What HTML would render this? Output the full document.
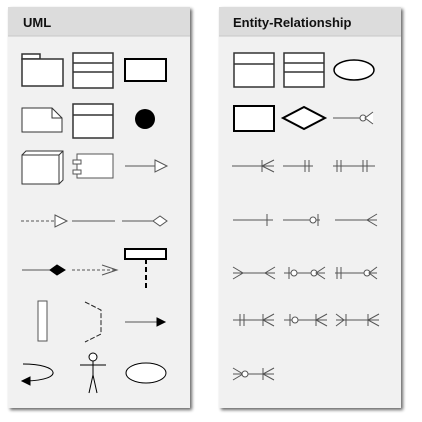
<!DOCTYPE html>
<html><head><style>
html,body{margin:0;padding:0;background:#fff;width:422px;height:422px;overflow:hidden}
text{font-family:"Liberation Sans",sans-serif;font-weight:bold;font-size:13px;fill:#111}
</style></head><body>
<svg width="422" height="422" viewBox="0 0 422 422" xmlns="http://www.w3.org/2000/svg">
<defs>
<filter id="sh" x="-10%" y="-10%" width="130%" height="130%"><feGaussianBlur in="SourceAlpha" stdDeviation="1.5"/><feOffset dx="2" dy="2"/><feComponentTransfer><feFuncA type="linear" slope="0.6"/></feComponentTransfer><feMerge><feMergeNode/><feMergeNode in="SourceGraphic"/></feMerge></filter>
</defs>
<!-- panels -->
<g filter="url(#sh)">
<rect x="8" y="7" width="182" height="401" fill="#f1f1f1"/>
<rect x="219" y="7" width="182" height="401" fill="#f1f1f1"/>
</g>
<rect x="8" y="7" width="182" height="29" fill="#dcdcdc"/>
<rect x="219" y="7" width="182" height="29" fill="#dcdcdc"/>
<line x1="8" y1="36" x2="190" y2="36" stroke="#c8c8c8"/>
<line x1="219" y1="36" x2="401" y2="36" stroke="#c8c8c8"/>
<text x="23" y="27">UML</text>
<text x="233" y="27">Entity-Relationship</text>

<g fill="#fff" stroke="#333" stroke-width="1.5">
<!-- UML row1 -->
<rect x="22" y="54" width="18" height="5"/>
<rect x="22" y="59" width="41" height="27"/>
<rect x="73" y="53" width="40" height="35"/>
<line x1="73" y1="63" x2="113" y2="63"/><line x1="73" y1="72" x2="113" y2="72"/>
<rect x="125" y="59" width="41" height="22" stroke="#000" stroke-width="2"/>
<!-- row2 -->
<path d="M22 108 H52 L62 118 V132 H22 Z" stroke-width="1"/>
<path d="M52 108 V118 H62" fill="none" stroke-width="1"/>
<rect x="73" y="104" width="40" height="34"/>
<line x1="73" y1="115" x2="113" y2="115"/>
<circle cx="145" cy="119" r="10" fill="#000" stroke="none"/>
<!-- row3 -->
<path d="M22 155 L26 151 H63 V180 L59 184" stroke-width="1"/>
<rect x="22" y="155" width="37" height="29" stroke-width="1"/>
<line x1="59" y1="155" x2="63" y2="151" stroke-width="1"/>
<rect x="77" y="154" width="36" height="24" stroke="#555" stroke-width="1"/>
<rect x="73" y="160" width="8" height="4" stroke="#555" stroke-width="1"/>
<rect x="73" y="170" width="8" height="4" stroke="#555" stroke-width="1"/>
</g>
<g stroke="#555" stroke-width="1" fill="#fff">
<line x1="125" y1="166" x2="155" y2="166"/>
<path d="M155 160 L167 166 L155 172 Z"/>
<!-- row4 -->
<line x1="21" y1="221" x2="55" y2="221" stroke-dasharray="3,2"/>
<path d="M55 215 L67 221 L55 227 Z"/>
<line x1="72" y1="221" x2="115" y2="221"/>
<line x1="122" y1="221" x2="153" y2="221"/>
<path d="M153 221 L160 216 L167 221 L160 226 Z"/>
<!-- row5 -->
<line x1="22" y1="270" x2="50" y2="270"/>
<path d="M50 270 L57 265 L65 270 L57 275 Z" fill="#000" stroke="#000"/>
<line x1="72" y1="270" x2="117" y2="270" stroke-dasharray="3,2"/>
<path d="M102 265 L117 270 L102 275" fill="none"/>
<rect x="125" y="249" width="41" height="10" stroke="#000" stroke-width="2"/>
<line x1="146" y1="259" x2="146" y2="291" stroke="#000" stroke-width="2" stroke-dasharray="5,3"/>
<!-- row6 -->
<rect x="38" y="301" width="9" height="40"/>
<path d="M85 302 L101 310 V334 L85 342" fill="none" stroke="#222" stroke-dasharray="5,2"/>
<line x1="125" y1="322" x2="158" y2="322"/>
<path d="M157 318 L165 322 L157 326 Z" fill="#000" stroke="#000"/>
<!-- row7 -->
<path d="M23 364 C60 364 65 380 26 381" fill="none" stroke="#000"/>
<path d="M22 381 L30 377 L30 385 Z" fill="#000" stroke="#000"/>
<circle cx="93" cy="357" r="4" stroke="#000"/>
<line x1="93" y1="361" x2="93" y2="375" stroke="#000"/>
<line x1="80" y1="365" x2="106" y2="365" stroke="#000"/>
<path d="M89 393 L93 375 L97 393" fill="none" stroke="#000"/>
<ellipse cx="146" cy="373" rx="20" ry="10" stroke="#000"/>
</g>

<!-- ER -->
<g fill="#fff" stroke="#333" stroke-width="1.5">
<rect x="234" y="53" width="40" height="34"/>
<line x1="234" y1="64" x2="274" y2="64"/>
<rect x="284" y="53" width="40" height="34"/>
<line x1="284" y1="63" x2="324" y2="63"/><line x1="284" y1="72" x2="324" y2="72"/>
<ellipse cx="354" cy="70" rx="20" ry="10" stroke="#000"/>
<rect x="234" y="106" width="40" height="25" stroke="#000" stroke-width="2"/>
<path d="M283 118 L304 107 L325 118 L304 129 Z" stroke="#000" stroke-width="2"/>
</g>
<g stroke="#555" stroke-width="1" fill="#fff">
<!-- row2 c3 -->
<line x1="333" y1="118" x2="363" y2="118"/>
<circle cx="363" cy="118" r="3"/>
<path d="M373 112 L365 118 L373 124"/>
<!-- row3 -->
<line x1="232" y1="166" x2="274" y2="166"/>
<line x1="262" y1="160" x2="262" y2="172"/>
<path d="M274 160 L262 166 L274 172" fill="none"/>
<line x1="283" y1="166" x2="313" y2="166"/>
<line x1="305" y1="160" x2="305" y2="172"/><line x1="309" y1="160" x2="309" y2="172"/>
<line x1="333" y1="166" x2="375" y2="166"/>
<line x1="337" y1="160" x2="337" y2="172"/><line x1="341" y1="160" x2="341" y2="172"/>
<line x1="363" y1="160" x2="363" y2="172"/><line x1="367" y1="160" x2="367" y2="172"/>
<!-- row4 -->
<line x1="233" y1="220" x2="273" y2="220"/>
<line x1="267" y1="214" x2="267" y2="226"/>
<line x1="283" y1="220" x2="320" y2="220"/>
<circle cx="313" cy="220" r="3"/>
<line x1="318" y1="214" x2="318" y2="226"/>
<line x1="335" y1="220" x2="377" y2="220"/>
<path d="M377 214 L367 220 L377 226" fill="none"/>
<!-- row5 -->
<line x1="233" y1="273" x2="275" y2="273"/>
<path d="M233 267 L243 273 L233 279" fill="none"/>
<path d="M275 267 L265 273 L275 279" fill="none"/>
<line x1="284" y1="273" x2="325" y2="273"/>
<line x1="289" y1="267" x2="289" y2="279"/>
<circle cx="294" cy="273" r="3"/>
<circle cx="314" cy="273" r="3"/>
<path d="M325 267 L316 273 L325 279" fill="none"/>
<line x1="335" y1="273" x2="377" y2="273"/>
<line x1="337" y1="267" x2="337" y2="279"/><line x1="341" y1="267" x2="341" y2="279"/>
<circle cx="367" cy="273" r="3"/>
<path d="M377 267 L369 273 L377 279" fill="none"/>
<!-- row6 -->
<line x1="233" y1="320" x2="274" y2="320"/>
<line x1="240" y1="314" x2="240" y2="326"/><line x1="244" y1="314" x2="244" y2="326"/>
<line x1="263" y1="314" x2="263" y2="326"/>
<path d="M274 314 L263 320 L274 326" fill="none"/>
<line x1="284" y1="320" x2="327" y2="320"/>
<line x1="290" y1="314" x2="290" y2="326"/>
<circle cx="295" cy="320" r="3"/>
<line x1="316" y1="314" x2="316" y2="326"/>
<path d="M327 314 L316 320 L327 326" fill="none"/>
<line x1="336" y1="320" x2="379" y2="320"/>
<path d="M336 314 L344 320 L336 326" fill="none"/>
<line x1="346" y1="314" x2="346" y2="326"/>
<line x1="368" y1="314" x2="368" y2="326"/>
<path d="M379 314 L368 320 L379 326" fill="none"/>
<!-- row7 -->
<line x1="233" y1="374" x2="274" y2="374"/>
<path d="M233 368 L243 374 L233 380" fill="none"/>
<circle cx="245" cy="374" r="3"/>
<line x1="263" y1="368" x2="263" y2="380"/>
<path d="M274 368 L263 374 L274 380" fill="none"/>
</g>
</svg>
</body></html>
